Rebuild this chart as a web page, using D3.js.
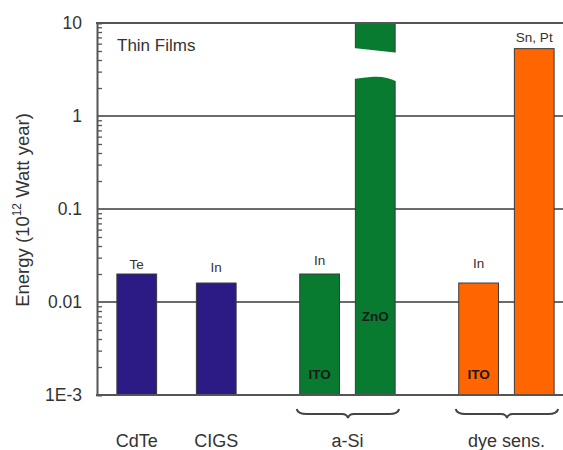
<!DOCTYPE html>
<html><head><meta charset="utf-8">
<script src="https://cdn.jsdelivr.net/npm/d3@7"></script>
<style>body{margin:0;background:#fff}svg{display:block;font-family:"Liberation Sans",Arial,sans-serif}</style>
</head><body><svg id="c" width="563" height="450"></svg>
<script>
// ---- data ----
const barNames   = ["CdTe Te", "CIGS In", "a-Si ITO", "a-Si ZnO", "dye ITO", "dye Sn,Pt"];
const barX       = [1, 2, 3.3, 4, 5.3, 6];
const barValues  = [0.02, 0.016, 0.02, 10, 0.016, 5.3];
const barGroups  = ["CdTe", "CIGS", "a-Si", "a-Si", "dye", "dye"];
const topLabels  = ["Te", "In", "In", null, "In", "Sn, Pt"];
const topLabelAt = [0.0226, 0.021, 0.025, null, 0.0232, 6.25];
const inLabels   = [null, null, "ITO", "ZnO", "ITO", null];
const inLabelAt  = [null, null, 0.00149, 0.00625, 0.00149, null];
const groupNames = ["CdTe", "CIGS", "a-Si", "dye sens."];
const groupX     = [1, 2, 3.65, 5.65];
const braceFrom  = [null, null, 3.3, 5.3];
const braceTo    = [null, null, 4, 6];
const yTicks     = [0.001, 0.01, 0.1, 1, 10];
const yTickText  = ["1E-3", "0.01", "0.1", "1", "10"];
const breakTop   = [5.4, 4.8];   // value at left/right upper edge of break
const breakBot   = [2.5, 2.64, 2.34]; // left, middle, right lower edge
const colors = {CdTe: "#2c1a85", CIGS: "#2c1a85", "a-Si": "#087b31", dye: "#ff6500"};

// ---- scales ----
const svg = d3.select("#c");
const y = d3.scaleLog().domain([1e-3, 10]).range([395, 23]);
const x = d3.scaleLinear().domain([0.5, 6.5]).range([97, 574]);
const bw = x(0.5) - x(0);
const right = 563;

// gridlines at major decades
svg.append("g").selectAll("line").data(yTicks.slice(1)).join("line")
  .attr("x1", x(0.5)).attr("x2", right)
  .attr("y1", d => y(d)).attr("y2", d => y(d))
  .attr("stroke", "#3a3a3a").attr("stroke-width", 1.6);

// bars
const bars = barValues.map((v, i) => ({v, i, x: barX[i], g: barGroups[i]}));
svg.append("g").selectAll("rect").data(bars).join("rect")
  .attr("x", d => x(d.x) - bw / 2).attr("width", bw)
  .attr("y", d => y(d.v)).attr("height", d => y(1e-3) - y(d.v))
  .attr("fill", d => colors[d.g]).attr("stroke", "#3a3a3a").attr("stroke-width", 1);

// axis break on ZnO bar
{
  const i = 3, xl = x(barX[i]) - bw / 2 - 2, xr = x(barX[i]) + bw / 2 + 2, xm = x(barX[i]) - 2;
  const p = d3.path();
  p.moveTo(xl, y(breakTop[0])); p.lineTo(xr, y(breakTop[1]));
  p.lineTo(xr, y(breakBot[2]));
  p.quadraticCurveTo((xm + xr) / 2, y(breakBot[1]) - 1, xm, y(breakBot[1]));
  p.quadraticCurveTo((xl + xm) / 2, y(breakBot[1]) + 1, xl, y(breakBot[0]));
  p.closePath();
  svg.append("path").attr("d", p.toString()).attr("fill", "#fff");
}

// axes: left line, minor ticks, bottom line, top line
const yAxis = d3.axisRight(y)
  .tickValues(d3.range(-3, 1).flatMap(e => d3.range(2, 10).map(k => k * Math.pow(10, e))))
  .tickSize(5).tickFormat("");
const ga = svg.append("g").attr("transform", `translate(${x(0.5)},0)`).call(yAxis);
ga.select(".domain").attr("stroke", "#555").attr("stroke-width", 2);
ga.selectAll(".tick line").attr("stroke", "#555").attr("stroke-width", 1.3);
svg.append("line").attr("x1", x(0.5) - 1).attr("x2", right).attr("y1", y(1e-3)).attr("y2", y(1e-3))
  .attr("stroke", "#555").attr("stroke-width", 2);
svg.append("line").attr("x1", x(0.5) - 1).attr("x2", right).attr("y1", y(10)).attr("y2", y(10))
  .attr("stroke", "#555").attr("stroke-width", 2);

// y tick labels
svg.append("g").selectAll("text").data(yTicks).join("text")
  .attr("x", x(0.5) - 15).attr("y", d => y(d)).attr("dy", "0.36em")
  .attr("text-anchor", "end").attr("font-size", 17.5).attr("fill", "#333")
  .text((d, i) => yTickText[i]);

// y axis title
const yt = svg.append("text").attr("transform", `translate(29,210) rotate(-90)`)
  .attr("text-anchor", "middle").attr("font-size", 18.5).attr("fill", "#333");
yt.append("tspan").text("Energy (10");
yt.append("tspan").attr("font-size", 12).attr("dy", -8).text("12");
yt.append("tspan").attr("dy", 8).text(" Watt year)");

// "Thin Films"
svg.append("text").attr("x", x(0.5) + 20).attr("y", 51).attr("font-size", 17).attr("fill", "#333").text("Thin Films");

// labels above bars
svg.append("g").selectAll("text").data(bars.filter(d => topLabels[d.i])).join("text")
  .attr("x", d => x(d.x)).attr("y", d => y(topLabelAt[d.i]))
  .attr("text-anchor", "middle").attr("font-size", 13.5).attr("fill", "#333")
  .text(d => topLabels[d.i]);

// labels inside bars
svg.append("g").selectAll("text").data(bars.filter(d => inLabels[d.i])).join("text")
  .attr("x", d => x(d.x)).attr("y", d => y(inLabelAt[d.i]))
  .attr("text-anchor", "middle").attr("font-size", 13.5).attr("font-weight", "bold").attr("fill", "#1a1a1a")
  .text(d => inLabels[d.i]);

// group labels
svg.append("g").selectAll("text").data(groupNames).join("text")
  .attr("x", (d, i) => x(groupX[i])).attr("y", 447)
  .attr("text-anchor", "middle").attr("font-size", 18).attr("fill", "#333")
  .text(d => d);

// braces
groupNames.forEach((g, i) => {
  if (braceFrom[i] == null) return;
  const x0 = x(braceFrom[i]) - bw / 2 - 3, x1 = x(braceTo[i]) + bw / 2 + 4, xm = (x0 + x1) / 2;
  const t = 409, h = 5;
  const p = d3.path();
  p.moveTo(x0, t);
  p.quadraticCurveTo(x0 + 1, t + h, x0 + 10, t + h);
  p.lineTo(xm - 6, t + h);
  p.quadraticCurveTo(xm - 1, t + h, xm, t + h + 4);
  p.quadraticCurveTo(xm + 1, t + h, xm + 6, t + h);
  p.lineTo(x1 - 10, t + h);
  p.quadraticCurveTo(x1 - 1, t + h, x1, t);
  svg.append("path").attr("d", p.toString()).attr("fill", "none").attr("stroke", "#444").attr("stroke-width", 2);
});
</script></body></html>
